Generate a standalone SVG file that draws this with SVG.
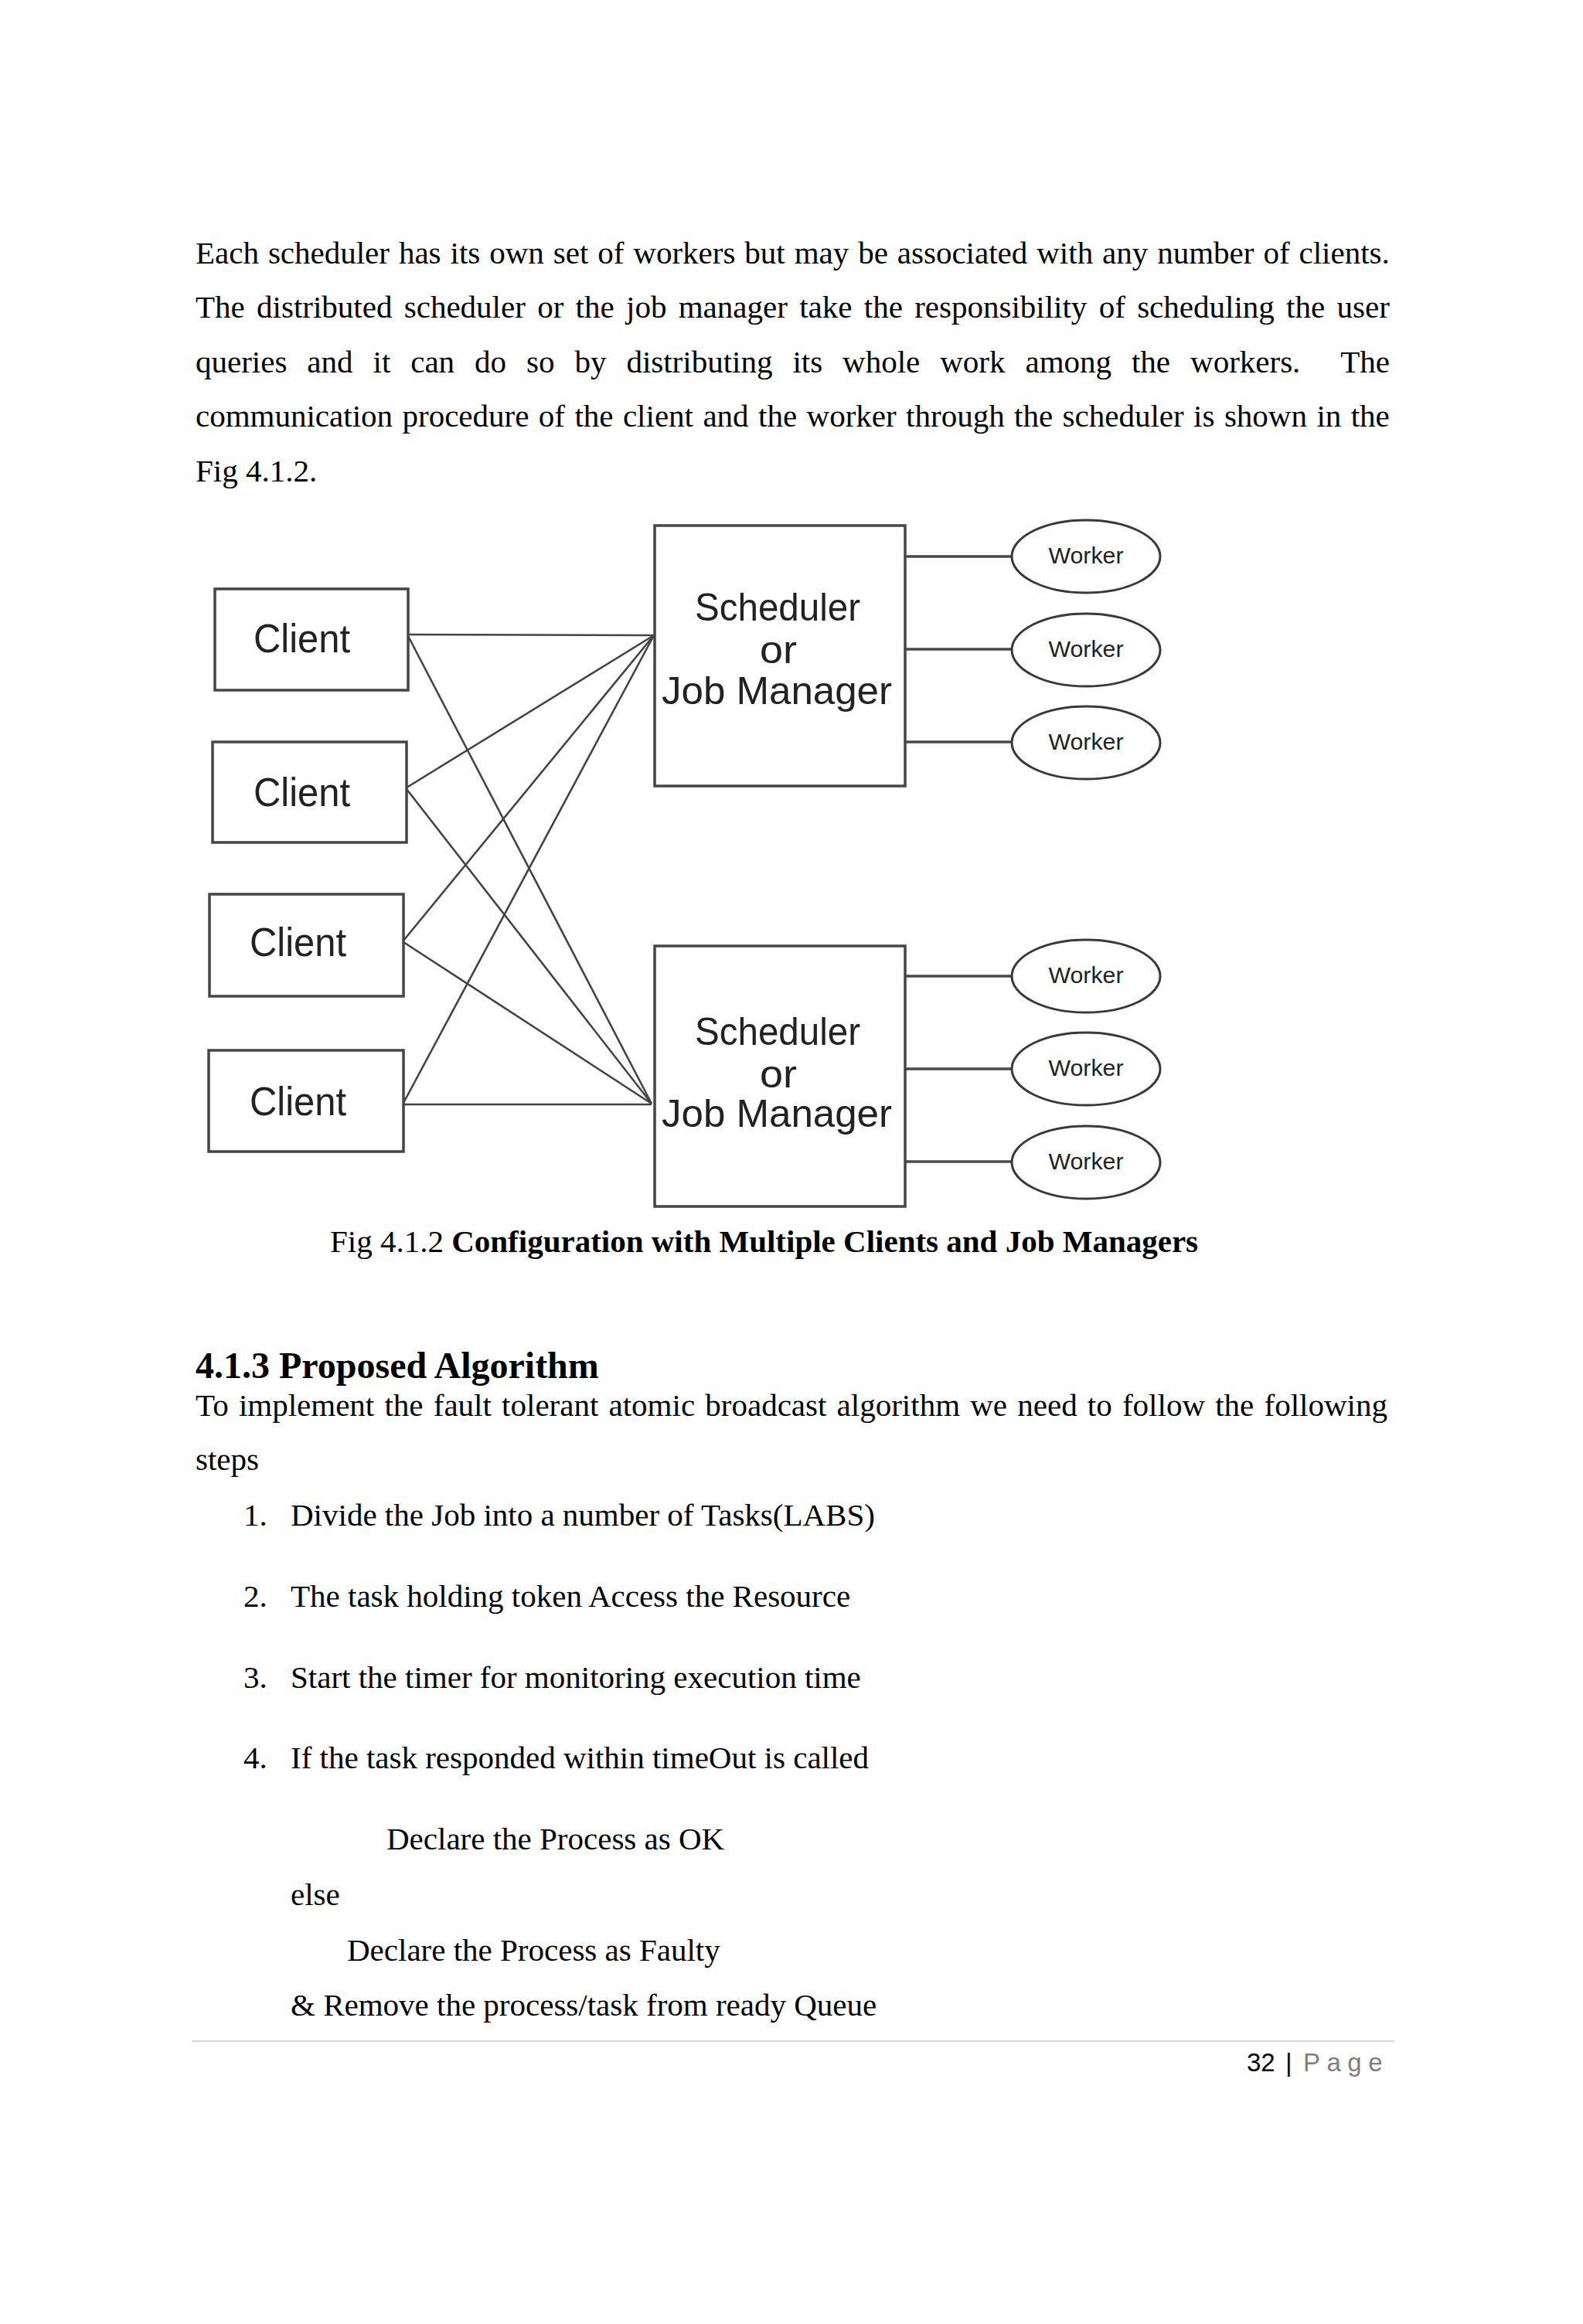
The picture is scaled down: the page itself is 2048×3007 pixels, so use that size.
<svg xmlns="http://www.w3.org/2000/svg" width="2048" height="3007" viewBox="0 0 2048 3007">
<style>
.body{font-family:"Liberation Serif","Times New Roman",serif;font-size:41px;fill:#000}
.bold{font-weight:bold}
.box{fill:#fff;stroke:#454545;stroke-width:3.5}
.ell{fill:#fff;stroke:#3a3a3a;stroke-width:3}
.lbl{font-family:"Liberation Sans",Arial,sans-serif;fill:#222}
.cl{font-size:52px}
.sc{font-size:50px;text-anchor:middle}
.wk{font-size:30px;text-anchor:middle}
.conn line{stroke:#444;stroke-width:2.6;fill:none}
.wl line{stroke:#4a4a4a;stroke-width:3.5}
.foot{font-family:"Liberation Sans",Arial,sans-serif;font-size:33px}
</style>
<rect x="0" y="0" width="2048" height="3007" fill="#fff"/>

<g id="paragraph" class="body">
<text x="253" y="341" word-spacing="1.69">Each scheduler has its own set of workers but may be associated with any number of clients.</text>
<text x="253" y="411" word-spacing="5.06">The distributed scheduler or the job manager take the responsibility of scheduling the user</text>
<text x="253" y="482" word-spacing="15.7">queries and it can do so by distributing its whole work among the workers.</text>
<text x="1798" y="482" text-anchor="end">The</text>
<text x="253" y="552" word-spacing="2.18">communication procedure of the client and the worker through the scheduler is shown in the</text>
<text x="253" y="623">Fig 4.1.2.</text>
</g>

<g id="connectors" class="conn">
<line x1="528" y1="821" x2="846" y2="822"/>
<line x1="528" y1="823" x2="843" y2="1428"/>
<line x1="526" y1="1019" x2="846" y2="822"/>
<line x1="526" y1="1021" x2="843" y2="1428"/>
<line x1="522" y1="1217" x2="846" y2="822"/>
<line x1="522" y1="1219" x2="843" y2="1428"/>
<line x1="522" y1="1427" x2="846" y2="822"/>
<line x1="522" y1="1429" x2="843" y2="1429"/>
<g class="wl">
<line x1="1171" y1="720" x2="1309" y2="720"/>
<line x1="1171" y1="840" x2="1309" y2="840"/>
<line x1="1171" y1="960" x2="1309" y2="960"/>
<line x1="1171" y1="1263" x2="1309" y2="1263"/>
<line x1="1171" y1="1383" x2="1309" y2="1383"/>
<line x1="1171" y1="1503" x2="1309" y2="1503"/>
</g>
</g>

<g id="client1"><rect class="box" x="278" y="762" width="250" height="131"/><text class="lbl cl" x="328" y="844" textLength="125" lengthAdjust="spacingAndGlyphs">Client</text></g>
<g id="client2"><rect class="box" x="275" y="960" width="251" height="130"/><text class="lbl cl" x="328" y="1043" textLength="125" lengthAdjust="spacingAndGlyphs">Client</text></g>
<g id="client3"><rect class="box" x="271" y="1157" width="251" height="132"/><text class="lbl cl" x="323" y="1237" textLength="125" lengthAdjust="spacingAndGlyphs">Client</text></g>
<g id="client4"><rect class="box" x="270" y="1359" width="252" height="131"/><text class="lbl cl" x="323" y="1443" textLength="125" lengthAdjust="spacingAndGlyphs">Client</text></g>

<g id="scheduler1"><rect class="box" x="847" y="680" width="324" height="337"/>
<text class="lbl sc" x="1006" y="803" textLength="214" lengthAdjust="spacingAndGlyphs">Scheduler</text>
<text class="lbl sc" x="1007" y="858" textLength="48" lengthAdjust="spacingAndGlyphs">or</text>
<text class="lbl sc" x="1005" y="911" textLength="298" lengthAdjust="spacingAndGlyphs">Job Manager</text></g>
<g id="scheduler2"><rect class="box" x="847" y="1224" width="324" height="337"/>
<text class="lbl sc" x="1006" y="1352" textLength="214" lengthAdjust="spacingAndGlyphs">Scheduler</text>
<text class="lbl sc" x="1007" y="1407" textLength="48" lengthAdjust="spacingAndGlyphs">or</text>
<text class="lbl sc" x="1005" y="1458" textLength="298" lengthAdjust="spacingAndGlyphs">Job Manager</text></g>

<g id="worker1"><ellipse class="ell" cx="1405" cy="720" rx="96" ry="47"/><text class="lbl wk" x="1405" y="729" textLength="97" lengthAdjust="spacingAndGlyphs">Worker</text></g>
<g id="worker2"><ellipse class="ell" cx="1405" cy="841" rx="96" ry="47"/><text class="lbl wk" x="1405" y="850" textLength="97" lengthAdjust="spacingAndGlyphs">Worker</text></g>
<g id="worker3"><ellipse class="ell" cx="1405" cy="961" rx="96" ry="47"/><text class="lbl wk" x="1405" y="970" textLength="97" lengthAdjust="spacingAndGlyphs">Worker</text></g>
<g id="worker4"><ellipse class="ell" cx="1405" cy="1263" rx="96" ry="47"/><text class="lbl wk" x="1405" y="1272" textLength="97" lengthAdjust="spacingAndGlyphs">Worker</text></g>
<g id="worker5"><ellipse class="ell" cx="1405" cy="1383" rx="96" ry="47"/><text class="lbl wk" x="1405" y="1392" textLength="97" lengthAdjust="spacingAndGlyphs">Worker</text></g>
<g id="worker6"><ellipse class="ell" cx="1405" cy="1504" rx="96" ry="47"/><text class="lbl wk" x="1405" y="1513" textLength="97" lengthAdjust="spacingAndGlyphs">Worker</text></g>

<g id="caption" class="body">
<text x="427" y="1620">Fig 4.1.2 <tspan class="bold">Configuration with Multiple Clients and Job Managers</tspan></text>
</g>

<g id="section" class="body">
<text class="bold" x="253" y="1783" font-size="48">4.1.3 Proposed Algorithm</text>
<text x="253" y="1832" word-spacing="2.96">To implement the fault tolerant atomic broadcast algorithm we need to follow the following</text>
<text x="253" y="1902">steps</text>
<text x="315" y="1974">1.</text><text x="376" y="1974">Divide the Job into a number of Tasks(LABS)</text>
<text x="315" y="2079">2.</text><text x="376" y="2079">The task holding token Access the Resource</text>
<text x="315" y="2184">3.</text><text x="376" y="2184">Start the timer for monitoring execution time</text>
<text x="315" y="2288">4.</text><text x="376" y="2288">If the task responded within timeOut is called</text>
<text x="500" y="2393">Declare the Process as OK</text>
<text x="376" y="2465">else</text>
<text x="449" y="2537">Declare the Process as Faulty</text>
<text x="376" y="2608">&amp; Remove the process/task from ready Queue</text>
</g>

<g id="footer">
<line x1="248" y1="2641" x2="1804" y2="2641" stroke="#d9d9d9" stroke-width="2.5"/>
<text class="foot" x="1613" y="2680" fill="#000">32</text>
<text class="foot" x="1663" y="2680" fill="#000">|</text>
<text class="foot" x="1686" y="2680" fill="#7f7f7f" letter-spacing="8.5">Page</text>
</g>
</svg>
